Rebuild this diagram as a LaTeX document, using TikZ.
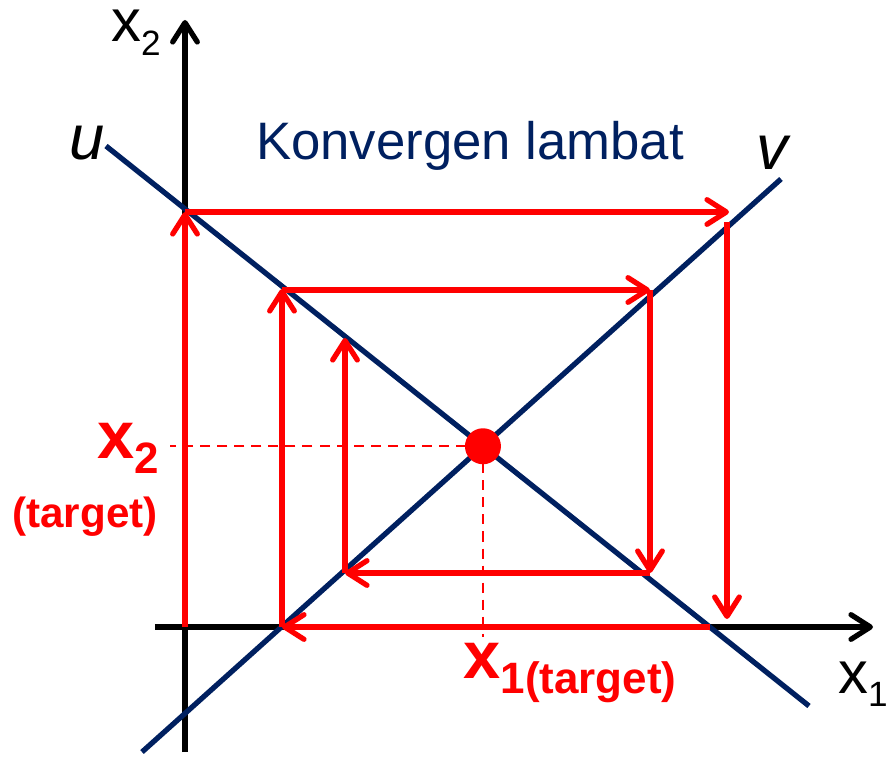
\documentclass[tikz,border=0pt]{standalone}
\usepackage{fontspec}
\setmainfont{Liberation Sans}
\usepackage{tikz}
\usetikzlibrary{arrows.meta}
\definecolor{navy}{RGB}{0,32,96}
\newcommand{\lowtxt}[3]{\raisebox{-#1}{\fontsize{#2}{#2}\selectfont #3}}

\begin{document}
\begin{tikzpicture}[
    axis/.style={line width=3pt, black, -{Straight Barb[length=11pt,width=14pt,round]}},
    navyline/.style={line width=3pt, navy},
    redarrow/.style={line width=3pt, red, -{Straight Barb[length=11pt,width=14pt,round]}},
    dashline/.style={line width=1.4pt, red, dash pattern=on 5.7pt off 4pt},
    axlabel/.style={font=\fontsize{34}{40}\selectfont, inner sep=0pt},
    linelabel/.style={font=\fontsize{36}{40}\selectfont\itshape, inner sep=0pt},
    targetlabel/.style={font=\fontsize{38}{44}\selectfont\bfseries, red, inner sep=0pt}
  ]
  \useasboundingbox (-3.7,-2.58) rectangle (14.02,12.54);

  % Axes
  \coordinate (xs) at (-0.6,0);
  \coordinate (xe) at (13.76,0);
  \coordinate (ys) at (0,-2.5);
  \coordinate (ye) at (0,12.14);
  \draw[axis] (xs) -- (xe);
  \draw[axis] (ys) -- (ye);

  % Lines u and v
  \coordinate (u1) at (-1.58,9.62);
  \coordinate (u2) at (12.48,-1.58);
  \coordinate (v1) at (-0.86,-2.5);
  \coordinate (v2) at (11.92,8.96);
  \draw[navyline] (u1) -- (u2);
  \draw[navyline] (v1) -- (v2);
  \coordinate (p) at (intersection of u1--u2 and v1--v2);

  % Iteration path
  \coordinate (r0) at (0,0);
  \coordinate (r1) at (0,8.3);
  \coordinate (r2) at (10.88,8.3);
  \coordinate (r3) at (10.84,8.1);
  \coordinate (r4) at (10.84,0.16);
  \coordinate (r5) at (10.5,0);
  \coordinate (r6) at (1.94,0);
  \coordinate (r7) at (1.94,6.76);
  \coordinate (r8) at (9.3,6.74);
  \coordinate (r9) at (9.3,1.08);
  \coordinate (r10) at (3.2,1.08);
  \coordinate (r11) at (3.2,5.78);
  \draw[redarrow] (r0) -- (r1);
  \draw[redarrow] (r1) -- (r2);
  \draw[redarrow] (r3) -- (r4);
  \draw[redarrow] (r5) -- (r6);
  \draw[redarrow] (r6) -- (r7);
  \draw[redarrow] (r6 |- r8) -- (r8);
  \draw[redarrow] (r8) -- (r9);
  \draw[redarrow] (r9) -- (r10);
  \draw[redarrow] (r10) -- (r11);

  % Target point
  \coordinate (dl) at (-0.3,0);
  \coordinate (db) at (0,-0.2);
  \draw[dashline] (p) -- (p -| dl);
  \draw[dashline] (p) -- (p |- db);
  \fill[red] (p) circle (0.36);

  % Labels
  \node[axlabel, anchor=base] (x2axis) at (-0.98,11.7) {x\lowtxt{7.5pt}{20}{2}};
  \node[axlabel, anchor=base west] (x1axis) at (13.06,-1.32) {x\lowtxt{7.5pt}{20}{1}};
  \node[linelabel, anchor=base] (ulab) at (-1.96,9.34) {u};
  \node[linelabel, anchor=base] (vlab) at (11.74,9.14) {v};
  \node[font=\fontsize{30}{36}\selectfont, navy, inner sep=0pt, anchor=base] (title) at (5.7,9.34) {Konvergen lambat};
  \node[targetlabel, anchor=base] (x2t) at (-1.14,3.38) {x\lowtxt{9pt}{25}{2}};
  \node[font=\fontsize{24}{28}\selectfont\bfseries, red, inner sep=0pt, anchor=base] (x2tt) at (-2.0,1.98) {(target)};
  \node[targetlabel, anchor=base] (x1t) at (7.7,-1.02) {x\lowtxt{9pt}{25}{1(target)}};
\end{tikzpicture}
\end{document}
